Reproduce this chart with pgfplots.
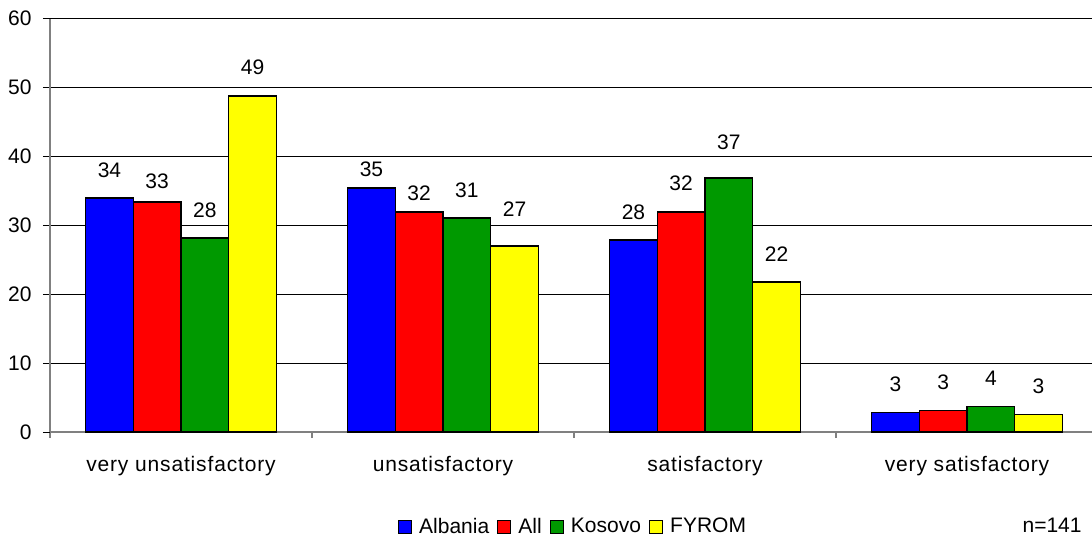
\documentclass[border=0pt]{standalone}
\usepackage{fontspec}
\setmainfont{Liberation Sans}
\usepackage{pgfplots}
\usepackage{pgfplotstable}
\pgfplotsset{compat=1.18}

\definecolor{barblue}{RGB}{0,0,255}
\definecolor{barred}{RGB}{255,0,0}
\definecolor{bargreen}{RGB}{0,153,0}
\definecolor{baryellow}{RGB}{255,255,0}

% x = category, y = percent, dy = label shift (pt)
\pgfplotstableread{
x y dy
0 33.9 0
1 35.4 -5
2 27.8 0
3 2.85 0
}\albania
\pgfplotstableread{
x y dy
0 33.3 -3.75
1 31.9 -5
2 31.9 0
3 3.1 0
}\allc
\pgfplotstableread{
x y dy
0 28.1 0
1 31.0 0
2 36.8 3.75
3 3.7 0
}\kosovo
\pgfplotstableread{
x y dy
0 48.7 0
1 27.0 4
2 21.7 0
3 2.55 0
}\fyrom

\begin{document}
\fontsize{10.5}{12.6}\selectfont
\begin{tikzpicture}
\useasboundingbox (0,0) rectangle (546pt,268.5pt);
\begin{axis}[
    at={(25pt,52.5pt)}, anchor=south west,
    scale only axis, width=524pt, height=207pt,
    ybar=0pt, bar width=0.182,
    xmin=-0.5, xmax=3.5, ymin=0, ymax=60,
    xtick={0,1,2,3},
    xticklabels={very unsatisfactory, unsatisfactory, satisfactory, very satisfactory},
    minor xtick={-0.5,0.5,1.5,2.5,3.5},
    ytick={0,10,20,30,40,50},
    extra y ticks={60},
    extra y tick style={grid style={gray, line width=0.5pt}},
    axis x line*=bottom, axis y line*=left,
    axis line style={gray, line width=0.6pt},
    tick align=outside,
    x tick style={draw=none},
    minor x tick style={draw=gray, line width=0.6pt},
    minor tick length=3pt,
    major tick length=3.5pt,
    y tick style={black, line width=0.5pt},
    ymajorgrids, major grid style={black, line width=0.5pt},
    xticklabel style={yshift=-5pt, font=\addfontfeature{LetterSpace=4}},
    yticklabel style={xshift=-2pt},
    /pgf/number format/assume math mode=true,
    every axis plot/.append style={draw=black, line width=0.8pt},
    visualization depends on={\thisrow{dy} \as \labeldy},
    nodes near coords={\pgfmathprintnumber[fixed,precision=0]{\pgfplotspointmeta}},
    every node near coord/.append style={anchor=south, inner sep=0pt, yshift=10pt+\labeldy pt, black},
    legend columns=-1,
    legend style={draw=none, fill=none, at={(0.5,0)}, anchor=center, yshift=-47.5pt,
        /tikz/every odd column/.append style={column sep=1.5pt},
        /tikz/every even column/.append style={column sep=2pt}},
    legend image code/.code={\draw[#1, line width=0.6pt] (0pt,-3.2pt) rectangle (6.5pt,3.2pt);},
]
\addplot[fill=barblue] table[x=x, y=y] {\albania};
\addplot[fill=barred] table[x=x, y=y] {\allc};
\addplot[fill=bargreen] table[x=x, y=y] {\kosovo};
\addplot[fill=baryellow] table[x=x, y=y] {\fyrom};
\legend{Albania, All, Kosovo, FYROM}
\end{axis}
\node[anchor=east] at (544.5pt,6pt) {n=141};
\end{tikzpicture}
\end{document}
